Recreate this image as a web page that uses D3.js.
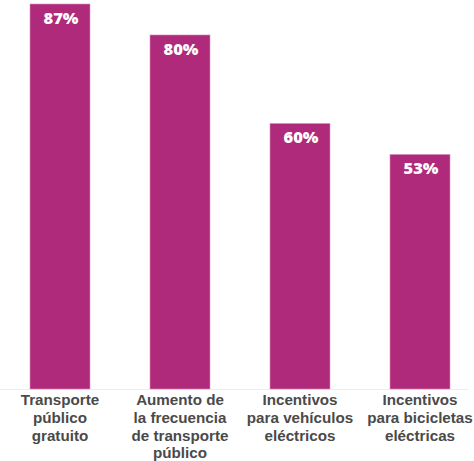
<!DOCTYPE html>
<html><head><meta charset="utf-8">
<script src="https://cdn.jsdelivr.net/npm/d3@7"></script>
<style>html,body{margin:0;padding:0;background:#fff;}</style>
</head><body>
<script>
const categories = [
  ["Transporte", "público", "gratuito"],
  ["Aumento de", "la frecuencia", "de transporte", "público"],
  ["Incentivos", "para vehículos", "eléctricos"],
  ["Incentivos", "para bicicletas", "eléctricas"]
];
const values = [87, 80, 60, 53];
const valueLabels = ["87%", "80%", "60%", "53%"];

const W = 474, H = 461;
const svg = d3.select("body").append("svg").attr("width", W).attr("height", H);

const x = d3.scaleBand().domain(d3.range(values.length)).range([0, 480]).paddingInner(0.5).paddingOuter(0.25);
const y = d3.scaleLinear().domain([0, 87]).range([389, 4]);

svg.append("line").attr("x1", 0).attr("x2", 468).attr("y1", y(0) + 0.5).attr("y2", y(0) + 0.5)
  .attr("stroke", "#ececec").attr("stroke-width", 1);

svg.selectAll("rect.bar").data(values).join("rect").attr("class", "bar")
  .attr("x", (d, i) => x(i)).attr("width", x.bandwidth())
  .attr("y", d => y(d)).attr("height", d => y(0) - y(d))
  .attr("fill", "#AF2A7A").attr("stroke", "#d690bb").attr("stroke-width", 0.6);

svg.selectAll("text.val").data(values).join("text").attr("class", "val")
  .attr("x", (d, i) => x(i) + x.bandwidth() / 2 + 1).attr("y", d => y(d) + 20)
  .attr("text-anchor", "middle").attr("fill", "#fff")
  .attr("font-family", "'Open Sans', sans-serif").attr("font-weight", 800).attr("font-size", 16.5)
  .text((d, i) => valueLabels[i]);

const lineGap = 17.8;
const catG = svg.selectAll("g.cat").data(categories).join("g").attr("class", "cat")
  .attr("transform", (d, i) => `translate(${x(i) + x.bandwidth() / 2},405)`);
catG.selectAll("text").data(d => d).join("text")
  .attr("x", 0).attr("y", (d, i) => i * lineGap)
  .attr("text-anchor", "middle").attr("fill", "#4a4a4a")
  .attr("font-family", "'Liberation Sans', Arial, sans-serif").attr("font-weight", 700).attr("font-size", 15.2)
  .text(d => d);
</script>
</body></html>
